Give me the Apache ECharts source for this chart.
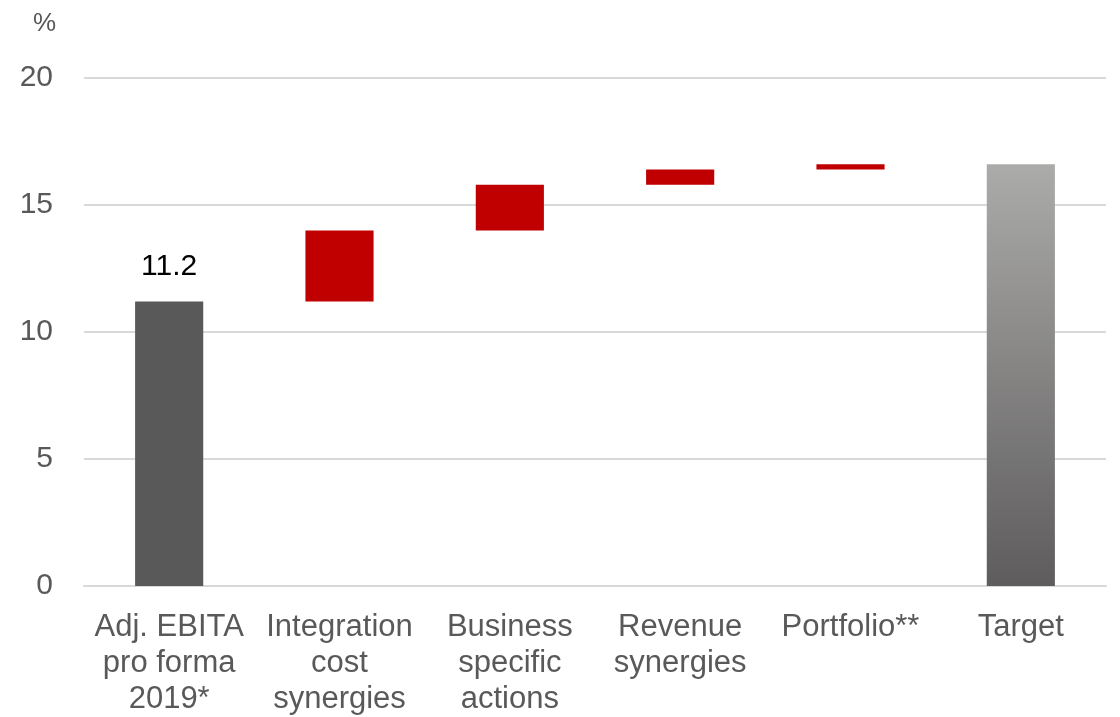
<!DOCTYPE html>
<html>
<head>
<meta charset="utf-8">
<script src="https://cdn.jsdelivr.net/npm/echarts@6/dist/echarts.min.js"></script>
<style>
  html, body { margin: 0; padding: 0; background: #fff; }
  #chart { width: 1120px; height: 717px; }
</style>
</head>
<body>
<div id="chart"></div>
<script>
// categories and values
const categories = [
  'Adj. EBITA\npro forma\n2019*',
  'Integration\ncost\nsynergies',
  'Business\nspecific\nactions',
  'Revenue\nsynergies',
  'Portfolio**',
  'Target'
];
const startValue = 11.2;
const steps = [2.8, 1.8, 0.6, 0.2];
const targetValue = 16.6;
const yTicks = [0, 5, 10, 15, 20];

// build the invisible base + visible part of the waterfall
const base = [0];
const visible = [startValue];
let running = startValue;
steps.forEach(function (s) {
  base.push(running);
  visible.push(s);
  running += s;
});
base.push(0);
visible.push(targetValue);

const visibleData = visible.map(function (v, i) {
  if (i === 0) {
    return {
      value: v,
      itemStyle: { color: '#595959' },
      label: {
        show: true, position: 'top', distance: 20, color: '#000',
        fontSize: 30, fontFamily: 'Liberation Sans', formatter: '{c}'
      }
    };
  }
  if (i === visible.length - 1) {
    return {
      value: v,
      itemStyle: {
        color: new echarts.graphic.LinearGradient(0, 0, 0, 1, [
          { offset: 0, color: '#ababa9' },
          { offset: 1, color: '#5e5c5d' }
        ])
      }
    };
  }
  return { value: v, itemStyle: { color: '#c00000' } };
});

const myChart = echarts.init(document.getElementById('chart'));
myChart.setOption({
  animation: false,
  grid: { left: 84, right: 14, top: 78, bottom: 129 },
  xAxis: {
    type: 'category',
    data: categories,
    axisTick: { show: false },
    axisLine: { lineStyle: { color: '#d9d9d9', width: 2 } },
    axisLabel: {
      interval: 0,
      color: '#595959',
      fontSize: 31,
      fontFamily: 'Liberation Sans',
      lineHeight: 36,
      margin: 23
    }
  },
  yAxis: {
    type: 'value',
    min: yTicks[0],
    max: yTicks[yTicks.length - 1],
    interval: 5,
    name: '%',
    nameLocation: 'end',
    nameGap: 41,
    nameTextStyle: {
      color: '#595959',
      fontSize: 26,
      fontFamily: 'Liberation Sans',
      align: 'right',
      padding: [0, 28, 0, 0]
    },
    axisLine: { show: false },
    axisTick: { show: false },
    splitLine: { lineStyle: { color: '#d9d9d9', width: 2 } },
    axisLabel: {
      color: '#595959',
      fontSize: 30,
      fontFamily: 'Liberation Sans',
      margin: 31
    }
  },
  series: [
    {
      type: 'bar',
      stack: 'wf',
      data: base,
      itemStyle: { color: 'transparent' },
      silent: true,
      barWidth: '40%'
    },
    {
      type: 'bar',
      stack: 'wf',
      data: visibleData,
      barWidth: '40%'
    }
  ]
});
</script>
</body>
</html>
